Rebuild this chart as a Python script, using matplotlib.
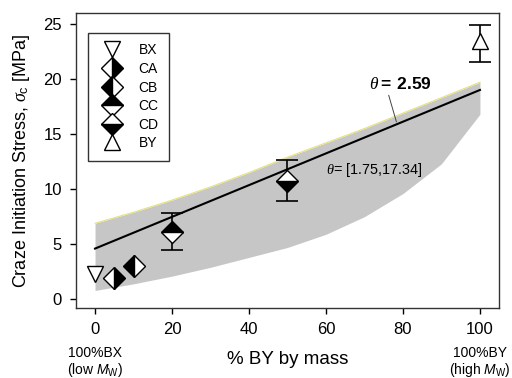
import matplotlib
matplotlib.use('Agg')
import matplotlib.pyplot as plt
import numpy as np

plt.rcParams['font.family'] = ['Liberation Sans', 'DejaVu Sans']
plt.rcParams['mathtext.fontset'] = 'custom'
plt.rcParams['mathtext.rm'] = 'Liberation Sans'
plt.rcParams['mathtext.it'] = 'Liberation Serif:italic'
plt.rcParams['mathtext.bf'] = 'Liberation Sans:bold'
plt.rcParams['mathtext.sf'] = 'Liberation Sans:italic'

# measured craze stress per blend
names = ['BX', 'CA', 'CB', 'CC', 'CD', 'BY']
pct_by = [0, 5, 10, 20, 50, 100]
stress = [2.3, 1.9, 3.0, 6.1, 10.7, 23.4]
err_lo = [None, None, None, 4.45, 8.9, 21.5]
err_hi = [None, None, None, 7.8, 12.6, 24.9]

# model line (theta = 2.59) and band for theta in [1.75, 17.34]
fit_x = [0, 100]
fit_y = [4.6, 19.0]
band_x = [0, 10, 20, 30, 40, 50, 60, 70, 80, 90, 100]
band_hi = [6.9, 7.9, 9.0, 10.2, 11.5, 12.9, 14.2, 15.5, 16.9, 18.3, 19.7]
band_lo = [0.8, 1.4, 2.1, 2.9, 3.8, 4.7, 5.9, 7.5, 9.6, 12.3, 16.8]

styles = {
    'BX': dict(marker='v', fillstyle='full', markerfacecolor='white'),
    'CA': dict(marker='D', fillstyle='right', markerfacecolor='black', markerfacecoloralt='white'),
    'CB': dict(marker='D', fillstyle='left', markerfacecolor='black', markerfacecoloralt='white'),
    'CC': dict(marker='D', fillstyle='top', markerfacecolor='black', markerfacecoloralt='white'),
    'CD': dict(marker='D', fillstyle='bottom', markerfacecolor='black', markerfacecoloralt='white'),
    'BY': dict(marker='^', fillstyle='full', markerfacecolor='white'),
}

fig = plt.figure(figsize=(5.12, 3.78), dpi=100)
ax = fig.add_axes([0.148, 0.185, 0.827, 0.781])

ax.fill_between(band_x, band_lo, band_hi, color='#c6c6c6', lw=0, zorder=1)
ax.plot(band_x, band_hi, color='#e6e27a', lw=0.8, zorder=2)
ax.plot(fit_x, fit_y, color='black', lw=1.5, zorder=3)

for i, n in enumerate(names):
    if err_lo[i] is not None:
        ax.errorbar(pct_by[i], stress[i],
                    yerr=[[stress[i] - err_lo[i]], [err_hi[i] - stress[i]]],
                    fmt='none', ecolor='black', elinewidth=1.2, capsize=8, capthick=1.2, zorder=4)
    ms = 11.5 if styles[n]['marker'] == 'D' else 11
    ax.plot([pct_by[i]], [stress[i]], linestyle='none', markeredgecolor='black',
            markeredgewidth=1.0, markersize=ms, label=n, zorder=5, **styles[n])

ax.annotate(r'$\theta$$\mathbf{=\ 2.59}$', xy=(78.3, 16.1), xytext=(71.2, 19.5),
            fontsize=12.5, va='center', ha='left',
            arrowprops=dict(arrowstyle='-', color='#444444', lw=0.7,
                            shrinkA=0, shrinkB=0, relpos=(0.3, 0.0)))
ax.text(60.1, 11.7, r'$\theta$= [1.75,17.34]', fontsize=10.4, va='center', ha='left')

ax.set_xlim(-5, 105)
ax.set_ylim(-0.8, 26)
ax.set_xticks([0, 20, 40, 60, 80, 100])
ax.set_yticks([0, 5, 10, 15, 20, 25])
ax.tick_params(direction='out', length=4, width=1, labelsize=12, pad=6)
for s in ax.spines.values():
    s.set_linewidth(1.0)
    s.set_color('#333333')

ax.set_ylabel(r'Craze Initiation Stress, $\sigma_\mathrm{c}$ [MPa]', fontsize=13, labelpad=8)
ax.set_xlabel('% BY by mass', fontsize=13.5, labelpad=10)

ax.text(0, -0.128, '100%BX\n' + r'(low $\mathsf{M}_\mathrm{W}$)', transform=ax.get_xaxis_transform(),
        ha='center', va='top', fontsize=10, linespacing=1.1)
ax.text(100, -0.128, '100%BY\n' + r'(high $\mathsf{M}_\mathrm{W}$)', transform=ax.get_xaxis_transform(),
        ha='center', va='top', fontsize=10, linespacing=1.1)

leg = ax.legend(loc='upper left', bbox_to_anchor=(0.029, 0.932), frameon=True,
                fancybox=False, edgecolor='black', fontsize=10, handletextpad=0.9,
                labelspacing=0.33, borderpad=0.75, handlelength=2.0, numpoints=1,
                borderaxespad=0)
leg.get_frame().set_linewidth(1.0)

fig.savefig('out.png', dpi=100)
